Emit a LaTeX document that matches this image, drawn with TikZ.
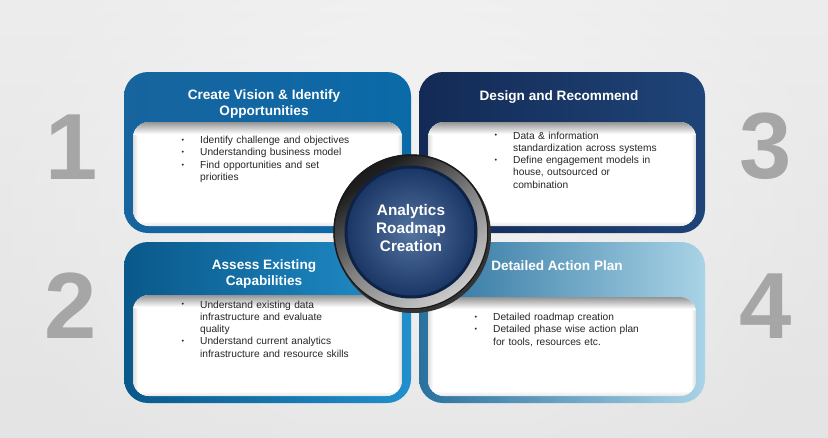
\documentclass[tikz,border=0pt]{standalone}
\usepackage{fontspec}
\setmainfont{Liberation Sans}
\usetikzlibrary{calc}

\definecolor{bgtop}{HTML}{F6F6F6}
\definecolor{bgbot}{HTML}{E4E4E4}
\definecolor{numgray}{HTML}{A6A6A6}
\definecolor{txtgray}{HTML}{262626}
\definecolor{boxAl}{HTML}{17649E}
\definecolor{boxAr}{HTML}{0B6AA8}
\definecolor{boxBl}{HTML}{132A55}
\definecolor{boxBr}{HTML}{1F4478}
\definecolor{boxCl}{HTML}{0A588A}
\definecolor{boxCr}{HTML}{2190CC}
\definecolor{boxDl}{HTML}{2A719E}
\definecolor{boxDr}{HTML}{A9D3E6}
\definecolor{hubin}{HTML}{55739F}
\definecolor{hubout}{HTML}{1A3766}
\definecolor{hubedge}{HTML}{0E2246}

\pgfdeclareverticalshading{ringshade}{100bp}{color(0bp)=(white); color(25bp)=(white!80!black); color(50bp)=(black!50); color(72bp)=(black!88); color(100bp)=(black)}

\newcommand{\bitem}[1]{\par\hangindent=18.5pt\hangafter=1\noindent\makebox[18.5pt][l]{\raisebox{1.1pt}{\scalebox{0.7}{\textbullet}}}#1\par}

\tikzset{
  outerbox/.style={rounded corners=24pt},
  panel/.style={fill=white},
  headtext/.style={text=white, font=\fontsize{13.6}{16.5}\selectfont\bfseries, align=center, inner sep=0pt},
  bodytext/.style={anchor=north west, text=txtgray, text width=230pt, align=left, inner sep=0pt,
    font=\fontsize{10.2}{12.3}\selectfont},
  bignum/.style={text=numgray, font=\fontsize{94}{94}\selectfont\bfseries, inner sep=0pt},
  hubtext/.style={text=white, font=\fontsize{15.3}{18}\selectfont\bfseries, align=center, inner sep=0pt}
}

% one quadrant: outer rounded box with its white panel
% #1 x0, #2 y0, #3 x1, #4 y1, #5 panel top, #6 shading options
\newcommand{\quadbox}[6]{%
  \shade[outerbox, #6] (#1,#2) rectangle (#3,#4);
  \begin{scope}
    \clip[rounded corners=16pt] ($(#1,#5)+(9,0)$) -- ($(#3,#5)+(-9,0)$) -- ($(#3,#4)+(-9,-7)$) -- ($(#1,#4)+(9,-7)$) -- cycle;
    \fill[panel] ($(#1,#5)+(9,0)$) rectangle ($(#3,#4)+(-9,-7)$);
    \shade[left color=black!14, right color=white] ($(#1,#5)+(9,0)$) rectangle ($(#1,#4)+(14,-7)$);
    \shade[left color=white, right color=black!14] ($(#3,#5)+(-14,0)$) rectangle ($(#3,#4)+(-9,-7)$);
    \shade[top color=white, bottom color=black!10] ($(#1,#4)+(9,-12)$) rectangle ($(#3,#4)+(-9,-7)$);
    \shade[top color=black!42, bottom color=white] ($(#1,#5)+(9,0)$) rectangle ($(#3,#5)+(-9,12)$);
  \end{scope}
}

\begin{document}
\begin{tikzpicture}[x=1pt, y=-1pt]
  \useasboundingbox (0,0) rectangle (828,437);
  % background
  \shade[top color=bgtop, bottom color=bgbot] (0,0) rectangle (828,437);
  \shade[inner color=white!97!black, outer color=bgbot, opacity=0.5] (0,-120) rectangle (828,557);

  % quadrants
  \quadbox{124}{72}{411}{233}{122}{left color=boxAl, right color=boxAr}
  \quadbox{419}{72}{705}{233}{122}{left color=boxBl, right color=boxBr}
  \quadbox{124}{242}{411}{403}{295}{left color=boxCl, right color=boxCr}
  \quadbox{419}{242}{705}{403}{297}{left color=boxDl, right color=boxDr}

  % headings
  \node[headtext] (h1) at (264,104) {Create Vision \& Identify\\Opportunities};
  \node[headtext] (h3) at (559,97) {Design and Recommend};
  \node[headtext] (h2) at (264,274) {Assess Existing\\Capabilities};
  \node[headtext] (h4) at (557,266) {Detailed Action Plan};

  % bullet lists
  \node[bodytext] (b1) at (181.5,131) {%
    \bitem{Identify challenge and objectives}%
    \bitem{Understanding business model}%
    \bitem{Find opportunities and set\newline priorities}};
  \node[bodytext] (b3) at (494.5,126.5) {%
    \bitem{Data \& information\newline standardization across systems}%
    \bitem{Define engagement models in\newline house, outsourced or\newline combination}};
  \node[bodytext] (b2) at (181.5,295.5) {%
    \bitem{Understand existing data\newline infrastructure and evaluate\newline quality}%
    \bitem{Understand current analytics\newline infrastructure and resource skills}};
  \node[bodytext] (b4) at (474.5,308) {%
    \bitem{Detailed roadmap creation}%
    \bitem{Detailed phase wise action plan\newline for tools, resources etc.}};

  % step numbers
  \node[bignum] (n1) at (72,147) {1};
  \node[bignum] (n2) at (71,306) {2};
  \node[bignum] (n3) at (766,146) {3};
  \node[bignum] (n4) at (766,306) {4};

  % central hub
  \coordinate (hc) at (411,232);
  \fill[black!80] ($(hc)+(2,3)$) circle (78);
  \shade[shading=ringshade, shading angle=35] (hc) circle (77.5);
  \draw[black!90, line width=1.5pt] (hc) circle (77);
  \fill[hubedge] (hc) circle (66.5);
  \shade[inner color=hubin, outer color=hubout] (hc) circle (63.5);
  \node[hubtext] (hub) at (411,228) {Analytics\\Roadmap\\Creation};
\end{tikzpicture}
\end{document}
